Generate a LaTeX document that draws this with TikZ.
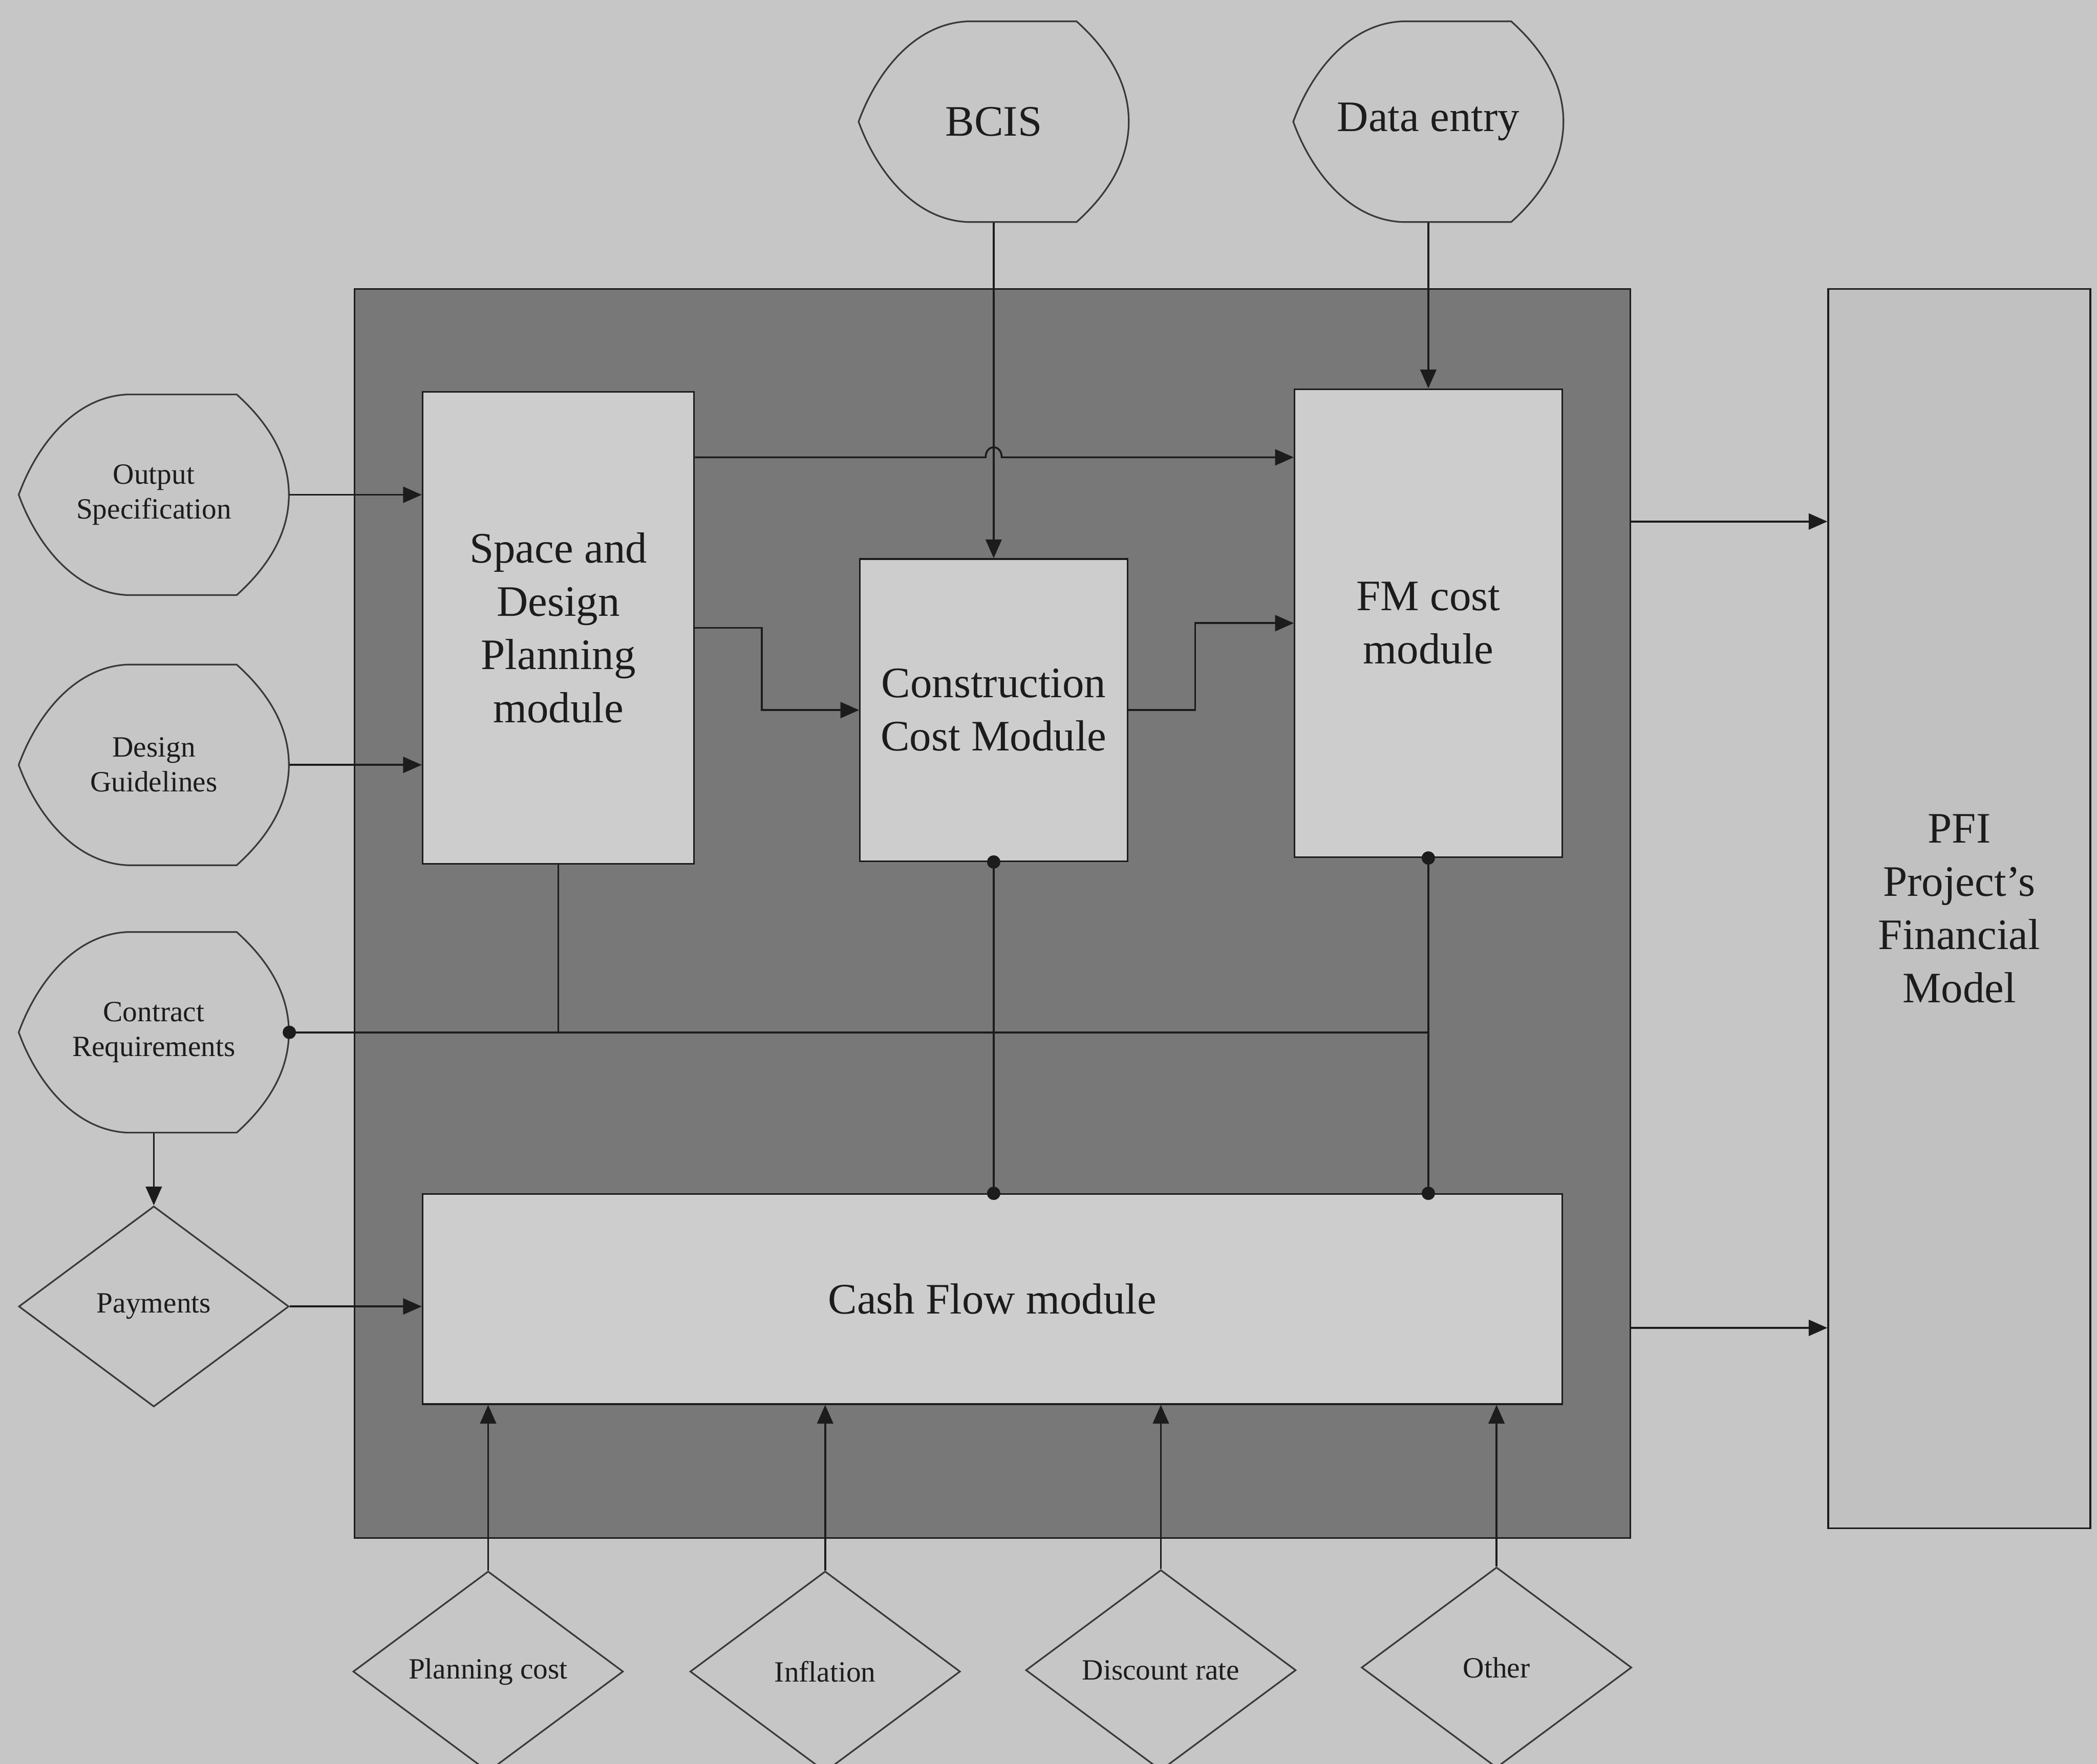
\documentclass[tikz,border=0pt]{standalone}
\usepackage{fontspec}
\setmainfont{Liberation Serif}
\usetikzlibrary{arrows.meta,shapes.geometric,calc}

\definecolor{pagebg}{HTML}{C6C6C6}
\definecolor{framefill}{HTML}{787878}
\definecolor{boxfill}{HTML}{CDCDCD}
\definecolor{pfifill}{HTML}{C1C1C1}
\definecolor{ink}{HTML}{1C1C1C}
\definecolor{outline}{HTML}{3A3A3A}

\newcommand{\bigtext}{\fontsize{18.5}{22.7}\selectfont}
\newcommand{\smalltext}{\fontsize{12.5}{14.8}\selectfont}

% Input symbol: pointed left side, flat top and bottom, rounded right side.
% #1 name, #2 x, #3 y, #4 font, #5 label
\newcommand{\ioshape}[5]{%
  \draw[shapeline, fill=pagebg]
    (#2-101,#3) .. controls (#2-88,#3-36) and (#2-60,#3-73) .. (#2-20,#3-75)
    -- (#2+62,#3-75) .. controls (#2+82,#3-57) and (#2+101,#3-32) .. (#2+101,#3)
    .. controls (#2+101,#3+32) and (#2+82,#3+57) .. (#2+62,#3+75)
    -- (#2-20,#3+75) .. controls (#2-60,#3+73) and (#2-88,#3+36) .. cycle;
  \node[rectangle, draw=none, inner sep=0pt, minimum width=40.4mm,
        minimum height=30mm, align=center, text=ink, font=#4] (#1) at (#2,#3) {#5};%
}

\tikzset{
  shapeline/.style={draw=outline, line width=0.7pt},
  modbox/.style={rectangle, draw=ink, line width=0.7pt, fill=boxfill,
                 inner sep=0pt, align=center, text=ink, font=\bigtext},
  framebox/.style={rectangle, draw=ink, line width=0.7pt, fill=framefill, inner sep=0pt},
  choice/.style={diamond, draw=outline, line width=0.7pt, fill=pagebg, inner sep=0pt,
                 minimum width=40.4mm, minimum height=30mm, align=center,
                 text=ink, font=\smalltext},
  link/.style={draw=ink, line width=0.8pt},
  arr/.style={link, -{Triangle[length=2.8mm,width=2.4mm]}},
  dot/.style={fill=ink},
}

\begin{document}
\begin{tikzpicture}[x=0.2mm, y=-0.2mm]
  \useasboundingbox (0,0) rectangle (1568,1319);
  \clip (0,0) rectangle (1568,1319);
  \fill[pagebg] (0,0) rectangle (1568,1319);

  % model container and modules
  \node[framebox, minimum width=190.8mm, minimum height=186.8mm] (frame) at (742,683) {};
  \node[modbox, minimum width=40.6mm, minimum height=70.6mm] (space) at (417.5,469.5)
       {Space and\\Design\\Planning\\module};
  \node[modbox, minimum width=40mm, minimum height=45.2mm] (constr) at (743,531)
       {Construction\\Cost Module};
  \node[modbox, minimum width=40mm, minimum height=70mm] (fm) at (1068,466)
       {FM cost\\module};
  \node[modbox, minimum width=170.4mm, minimum height=31.4mm] (cash) at (742,971.5)
       {Cash Flow module};
  \node[modbox, fill=pfifill, minimum width=39.2mm, minimum height=185.4mm] (pfi) at (1465,679.5)
       {PFI\\Project's\\Financial\\Model};

  % inputs
  \ioshape{bcis}{743}{91}{\bigtext}{BCIS}
  \ioshape{data}{1068}{91}{\bigtext}{Data entry}
  \ioshape{outspec}{115}{370}{\smalltext}{Output\\Specification}
  \ioshape{design}{115}{572}{\smalltext}{Design\\Guidelines}
  \ioshape{contract}{115}{772}{\smalltext}{Contract\\Requirements}

  \node[choice] (pay) at (115,977) {Payments};
  \node[choice] (plan) at (365,1250) {Planning cost};
  \node[choice] (infl) at (617,1250) {Inflation};
  \node[choice] (disc) at (868,1249) {Discount rate};
  \node[choice] (other) at (1119,1247) {Other};

  % connectors into the modules
  \draw[arr] (outspec.east) -- (outspec.east -| space.west);
  \draw[arr] (design.east) -- (design.east -| space.west);
  \draw[arr] (bcis.south) -- (constr.north);
  \draw[arr] (data.south) -- (fm.north);
  \draw[arr] (contract.south) -- (pay.north);
  \draw[arr] (pay.east) -- (pay.east -| cash.west);

  % space planning to FM, hopping over the BCIS line
  \coordinate (hop) at (bcis.south |- 0,342);
  \draw[arr] (space.east |- 0,342) -- ($(hop)+(-6,0)$)
        .. controls ($(hop)+(-6,-10)$) and ($(hop)+(6,-10)$) .. ($(hop)+(6,0)$)
        -- (fm.west |- 0,342);

  \draw[arr] (space.east) -- ++(50,0) |- (constr.west);
  \draw[arr] (constr.east) -- ++(50,0) |- (fm.west);

  % contract requirements bus
  \coordinate (busend) at (fm.south |- contract.east);
  \draw[link] (contract.east) -- (busend);
  \draw[link] (space.south) -- (space.south |- contract.east);
  \fill[dot] (contract.east) circle[radius=5];

  % modules feeding the cash flow
  \draw[link] (constr.south) -- (constr.south |- cash.north);
  \draw[link] (fm.south) -- (fm.south |- cash.north);
  \fill[dot] (constr.south) circle[radius=5];
  \fill[dot] (constr.south |- cash.north) circle[radius=5];
  \fill[dot] (fm.south) circle[radius=5];
  \fill[dot] (fm.south |- cash.north) circle[radius=5];

  % cash flow parameters
  \draw[arr] (plan.north) -- (plan.north |- cash.south);
  \draw[arr] (infl.north) -- (infl.north |- cash.south);
  \draw[arr] (disc.north) -- (disc.north |- cash.south);
  \draw[arr] (other.north) -- (other.north |- cash.south);

  % outputs to the financial model
  \draw[arr] (frame.east |- 0,390) -- (pfi.west |- 0,390);
  \draw[arr] (frame.east |- 0,993) -- (pfi.west |- 0,993);
\end{tikzpicture}
\end{document}
